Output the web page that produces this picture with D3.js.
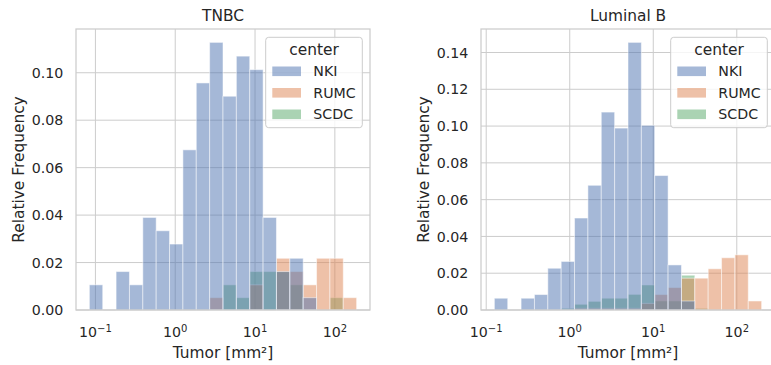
<!DOCTYPE html>
<html>
<head>
<meta charset="utf-8">
<script src="https://cdn.jsdelivr.net/npm/d3@7"></script>
<style>
  body { margin: 0; background: #fff; }
  svg text { font-family: "DejaVu Sans", sans-serif; fill: #262626; }
</style>
</head>
<body>
<svg id="chart" width="771" height="365"></svg>
<script>
var centers = ["NKI", "RUMC", "SCDC"];
var palette = ["#4c72b0", "#dd8452", "#55a868"];

var xTicks = [0.1, 1, 10, 100];
var xTickExp = ["\u22121", "0", "1", "2"];

// TNBC: 20 log bins between smallest and largest tumor area
var tnbcRange = [0.084, 187.5];
var tnbcNKI  = [0.0106, 0, 0.0162, 0.0106, 0.039, 0.0334, 0.0278, 0.0675, 0.0957, 0.1128,
                0.0901, 0.107, 0.1013, 0.039, 0.0162, 0.0218, 0.0052, 0, 0, 0];
var tnbcRUMC = [0, 0, 0, 0, 0, 0, 0, 0, 0, 0.0052,
                0, 0, 0.0106, 0, 0.0218, 0.0162, 0.0106, 0.0218, 0.0218, 0.0052];
var tnbcSCDC = [0, 0, 0, 0, 0, 0, 0, 0, 0, 0,
                0.0106, 0.0052, 0.0162, 0.0162, 0.0162, 0.0106, 0, 0, 0.0052, 0];
var tnbcYTicks = [0, 0.02, 0.04, 0.06, 0.08, 0.10];

// Luminal B
var lumRange = [0.1252, 198.4];
var lumNKI  = [0.0064, 0, 0.0064, 0.0084, 0.0227, 0.0264, 0.05, 0.0678, 0.1076, 0.0989,
               0.1455, 0.1004, 0.0731, 0.0245, 0.0049, 0, 0, 0, 0, 0];
var lumRUMC = [0, 0, 0, 0, 0, 0, 0.0009, 0.0009, 0.0009, 0.0009,
               0.0009, 0.0036, 0.0084, 0.0122, 0.0173, 0.0173, 0.0224, 0.0284, 0.03, 0.0049];
var lumSCDC = [0, 0, 0, 0, 0, 0.0009, 0.0031, 0.0047, 0.0064, 0.0064,
               0.0085, 0.0136, 0.0049, 0.0049, 0.0189, 0.0009, 0, 0, 0, 0];
var lumYTicks = [0, 0.02, 0.04, 0.06, 0.08, 0.10, 0.12, 0.14];

var plotTop = 29, plotBottom = 310;
var grid = "#cccccc";

var svg = d3.select("#chart");

function drawPanel(opts) {
	var left = opts.left, right = opts.right;
	var lo = opts.range[0], hi = opts.range[1];
	var nb = opts.series[0].length;

	// matplotlib style 5% margins on a log axis
	var pad = Math.pow(hi / lo, 0.05);
	var x = d3.scaleLog().domain([lo / pad, hi * pad]).range([left, right]);
	var edges = d3.range(nb + 1).map(function(i) { return lo * Math.pow(hi / lo, i / nb); });

	var ymax = d3.max(opts.series, function(s) { return d3.max(s); }) * 1.05;
	var y = d3.scaleLinear().domain([0, ymax]).range([plotBottom, plotTop]);

	var g = svg.append("g");

	// grid
	g.append("g").selectAll("line")
		.data(xTicks)
		.enter().append("line")
		.attr("x1", d => x(d)).attr("x2", d => x(d))
		.attr("y1", plotTop).attr("y2", plotBottom)
		.attr("stroke", grid).attr("stroke-width", 1);

	g.append("g").selectAll("line")
		.data(opts.yTicks)
		.enter().append("line")
		.attr("x1", left).attr("x2", right)
		.attr("y1", d => y(d)).attr("y2", d => y(d))
		.attr("stroke", grid).attr("stroke-width", 1);

	// bars, last hue drawn first like seaborn does
	for (var k = opts.series.length - 1; k >= 0; k--) {
		var bins = opts.series[k].map(function(v, i) { return {v: v, x0: edges[i], x1: edges[i + 1]}; })
			.filter(function(d) { return d.v > 0; });
		g.append("g").selectAll("rect")
			.data(bins)
			.enter().append("rect")
			.attr("x", d => x(d.x0))
			.attr("width", d => x(d.x1) - x(d.x0))
			.attr("y", d => y(d.v))
			.attr("height", d => y(0) - y(d.v))
			.attr("fill", palette[k])
			.attr("fill-opacity", 0.5)
			.attr("stroke", "#fff")
			.attr("stroke-opacity", 0.5)
			.attr("stroke-width", 1);
	}

	// frame
	g.append("rect")
		.attr("x", left).attr("y", plotTop)
		.attr("width", right - left).attr("height", plotBottom - plotTop)
		.attr("fill", "none").attr("stroke", grid).attr("stroke-width", 1.25);

	// y tick labels
	g.append("g").selectAll("text")
		.data(opts.yTicks)
		.enter().append("text")
		.attr("x", left - 12.7)
		.attr("y", d => y(d))
		.attr("dy", "0.36em")
		.attr("text-anchor", "end")
		.style("font-size", "14.2px")
		.text(d3.format(".2f"));

	// x tick labels 10^n
	var xt = g.append("g").selectAll("text")
		.data(xTicks)
		.enter().append("text")
		.attr("x", d => x(d))
		.attr("y", 336.7)
		.attr("text-anchor", "middle")
		.style("font-size", "14.2px");
	xt.append("tspan").text("10");
	xt.append("tspan")
		.attr("dy", -5)
		.style("font-size", "10px")
		.text((d, i) => xTickExp[i]);

	// title and labels
	g.append("text")
		.attr("x", (left + right) / 2).attr("y", 20.5)
		.attr("text-anchor", "middle")
		.style("font-size", "15.4px")
		.text(opts.title);

	g.append("text")
		.attr("x", (left + right) / 2).attr("y", 358)
		.attr("text-anchor", "middle")
		.style("font-size", "15.4px")
		.text("Tumor [mm\u00b2]");

	g.append("text")
		.attr("transform", "translate(" + (left - 52) + "," + ((plotTop + plotBottom) / 2) + ") rotate(-90)")
		.attr("text-anchor", "middle")
		.style("font-size", "15.4px")
		.text("Relative Frequency");

	// legend
	var lg = g.append("g").attr("transform", "translate(" + (right - 104.3) + ",37.3)");
	lg.append("rect")
		.attr("width", 96.6).attr("height", 90.4)
		.attr("rx", 3).attr("ry", 3)
		.attr("fill", "#fff").attr("fill-opacity", 0.8)
		.attr("stroke", grid).attr("stroke-width", 1);
	lg.append("text")
		.attr("x", 48.3).attr("y", 17.8)
		.attr("text-anchor", "middle")
		.style("font-size", "15.4px")
		.text("center");
	var item = lg.selectAll(".item")
		.data(centers)
		.enter().append("g")
		.attr("class", "item")
		.attr("transform", (d, i) => "translate(0," + (34 + i * 21.5) + ")");
	item.append("rect")
		.attr("x", 6.6).attr("y", -4.8)
		.attr("width", 28.7).attr("height", 9.6)
		.attr("fill", (d, i) => palette[i])
		.attr("fill-opacity", 0.5);
	item.append("text")
		.attr("x", 47.6).attr("dy", "0.36em")
		.style("font-size", "14.2px")
		.text(d => d);
}

drawPanel({
	title: "TNBC", left: 76, right: 370,
	range: tnbcRange, series: [tnbcNKI, tnbcRUMC, tnbcSCDC], yTicks: tnbcYTicks
});
drawPanel({
	title: "Luminal B", left: 481, right: 775,
	range: lumRange, series: [lumNKI, lumRUMC, lumSCDC], yTicks: lumYTicks
});
</script>
</body>
</html>
